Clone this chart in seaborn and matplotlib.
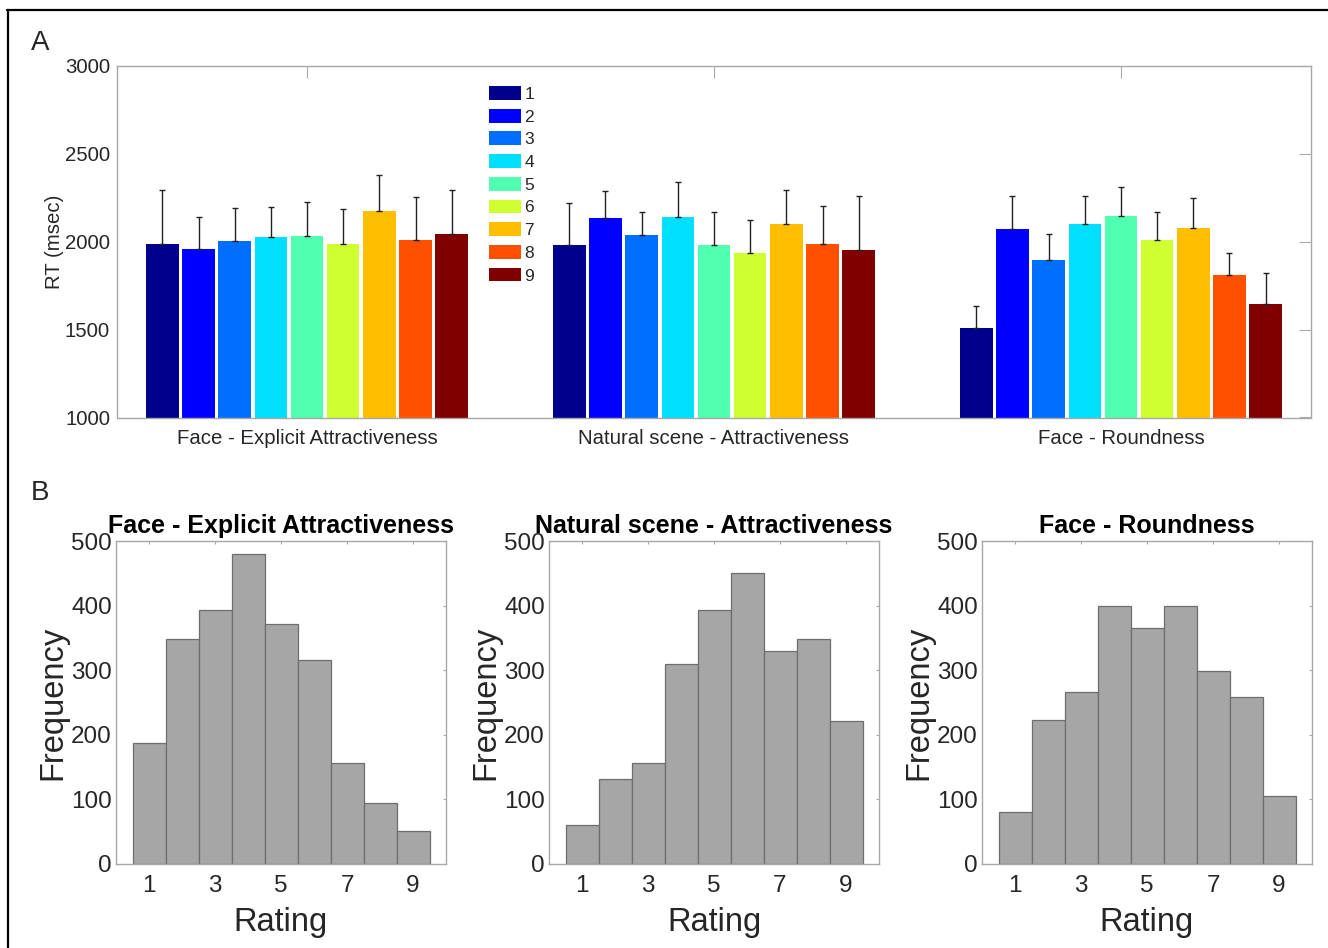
import numpy as np
import pandas as pd
import matplotlib
matplotlib.use("Agg")
import matplotlib.pyplot as plt
import matplotlib.patches as mpatches
from matplotlib.lines import Line2D
import seaborn as sns

# ---- data ----
tasks = ["Face - Explicit Attractiveness", "Natural scene - Attractiveness", "Face - Roundness"]
ratings = ["1", "2", "3", "4", "5", "6", "7", "8", "9"]
jet_colors = ["#00008C", "#0000FF", "#006FFF", "#00DFFF", "#50FFAF",
              "#CFFF30", "#FFBF00", "#FF5000", "#800000"]

# mean RT (msec) per rating
rt_face_attr = [1989, 1956, 2006, 2029, 2032, 1989, 2173, 2010, 2044]
rt_scene_attr = [1981, 2133, 2036, 2142, 1983, 1937, 2099, 1989, 1953]
rt_face_round = [1512, 2070, 1894, 2099, 2144, 2008, 2078, 1808, 1647]

# upper error (msec)
err_face_attr = [303, 183, 186, 166, 196, 199, 205, 242, 252]
err_scene_attr = [241, 157, 133, 198, 186, 188, 197, 212, 305]
err_face_round = [124, 192, 148, 163, 165, 163, 173, 129, 178]

# rating histograms
rating_values = [1, 2, 3, 4, 5, 6, 7, 8, 9]
freq_face_attr = [188, 349, 393, 480, 371, 316, 156, 94, 51]
freq_scene_attr = [60, 131, 157, 309, 393, 451, 329, 348, 221]
freq_face_round = [80, 223, 267, 400, 366, 400, 299, 258, 105]

df = pd.DataFrame({
    "task": np.repeat(tasks, len(ratings)),
    "rating": ratings * len(tasks),
    "rt": rt_face_attr + rt_scene_attr + rt_face_round,
})
err_lookup = {}
for t, errs in zip(tasks, [err_face_attr, err_scene_attr, err_face_round]):
    for r, e in zip(ratings, errs):
        err_lookup[(t, r)] = e

sns.set_style("white")
plt.rcParams["font.family"] = ["Liberation Sans", "DejaVu Sans"]

W, H = 1328, 948
fig = plt.figure(figsize=(W / 100, H / 100), dpi=100)

spine_col = "#A8A8A8"
text_col = "#262626"

# ---- panel A ----
axA = fig.add_axes([117 / W, 1 - 417.5 / H, 1194 / W, 351.5 / H])
sns.barplot(data=df, x="task", y="rt", hue="rating", hue_order=ratings,
            palette=jet_colors, saturation=1, width=0.8, gap=0.1,
            errorbar=None, legend=False, linewidth=0, ax=axA)

for cont, lvl in zip(axA.containers, ratings):
    for bar in cont:
        xc = bar.get_x() + bar.get_width() / 2
        ti = int(round(xc))
        m = bar.get_height()
        e = err_lookup[(tasks[ti], lvl)]
        axA.errorbar(xc, m, yerr=[[0], [e]], color="#222222", lw=1.0,
                     capsize=2.3, capthick=1.0, zorder=5)

axA.set_ylim(1000, 3000)
axA.set_xlim(-0.467, 2.467)
axA.set_yticks([1000, 1500, 2000, 2500, 3000])
axA.set_xlabel("")
axA.set_ylabel("RT (msec)", fontsize=14.7, color=text_col, labelpad=1)
axA.tick_params(direction="in", top=True, right=True, length=8.5, width=0.8,
                colors=spine_col, labelcolor=text_col, labelsize=14.7)
axA.tick_params(axis="x", pad=8)
axA.tick_params(axis="y", pad=5)
for s in axA.spines.values():
    s.set_visible(True)
    s.set_color(spine_col)
    s.set_linewidth(1.0)

handles = [mpatches.Patch(facecolor=c, edgecolor="none", label=r)
           for c, r in zip(jet_colors, ratings)]
axA.legend(handles=handles, loc="upper left", bbox_to_anchor=(489 / W, 1 - 86 / H),
           bbox_transform=fig.transFigure, frameon=False, fontsize=12.5,
           handlelength=1.85, handleheight=0.85, handletextpad=0.2,
           labelspacing=0.39, borderpad=0, borderaxespad=0)

# ---- panel B ----
lefts = [116, 549, 982]
for left, title, counts in zip(lefts, tasks, [freq_face_attr, freq_scene_attr, freq_face_round]):
    ax = fig.add_axes([left / W, 1 - 864 / H, 330 / W, 323 / H])
    sns.histplot(x=rating_values, weights=counts, discrete=True, ax=ax,
                 color="#A6A6A6", edgecolor="#6E6E6E", linewidth=0.9, alpha=1)
    ax.set_xlim(0, 10)
    ax.set_ylim(0, 500)
    ax.set_xticks([1, 3, 5, 7, 9])
    ax.set_yticks([0, 100, 200, 300, 400, 500])
    ax.set_title(title, fontsize=18, fontweight="bold", color="black", pad=6)
    ax.set_xlabel("Rating", fontsize=23.5, color=text_col, labelpad=7)
    ax.set_ylabel("Frequency", fontsize=23.5, color=text_col, labelpad=2)
    ax.tick_params(direction="in", top=True, right=True, length=2.5, width=0.8,
                   colors=spine_col, labelcolor=text_col, labelsize=17.5)
    ax.tick_params(axis="x", pad=8)
    ax.tick_params(axis="y", pad=3)
    for s in ax.spines.values():
        s.set_visible(True)
        s.set_color(spine_col)
        s.set_linewidth(1.0)

# panel letters
fig.text(31 / W, 1 - 50 / H, "A", fontsize=20, va="baseline", ha="left")
fig.text(31 / W, 1 - 500 / H, "B", fontsize=20, va="baseline", ha="left")

# frame lines
fig.add_artist(Line2D([7 / W, 1], [1 - 10 / H, 1 - 10 / H], transform=fig.transFigure,
                      color="black", lw=1.6))
fig.add_artist(Line2D([8 / W, 8 / W], [0, 1 - 10 / H], transform=fig.transFigure,
                      color="black", lw=1.6))

fig.savefig("out.png", dpi=100)
